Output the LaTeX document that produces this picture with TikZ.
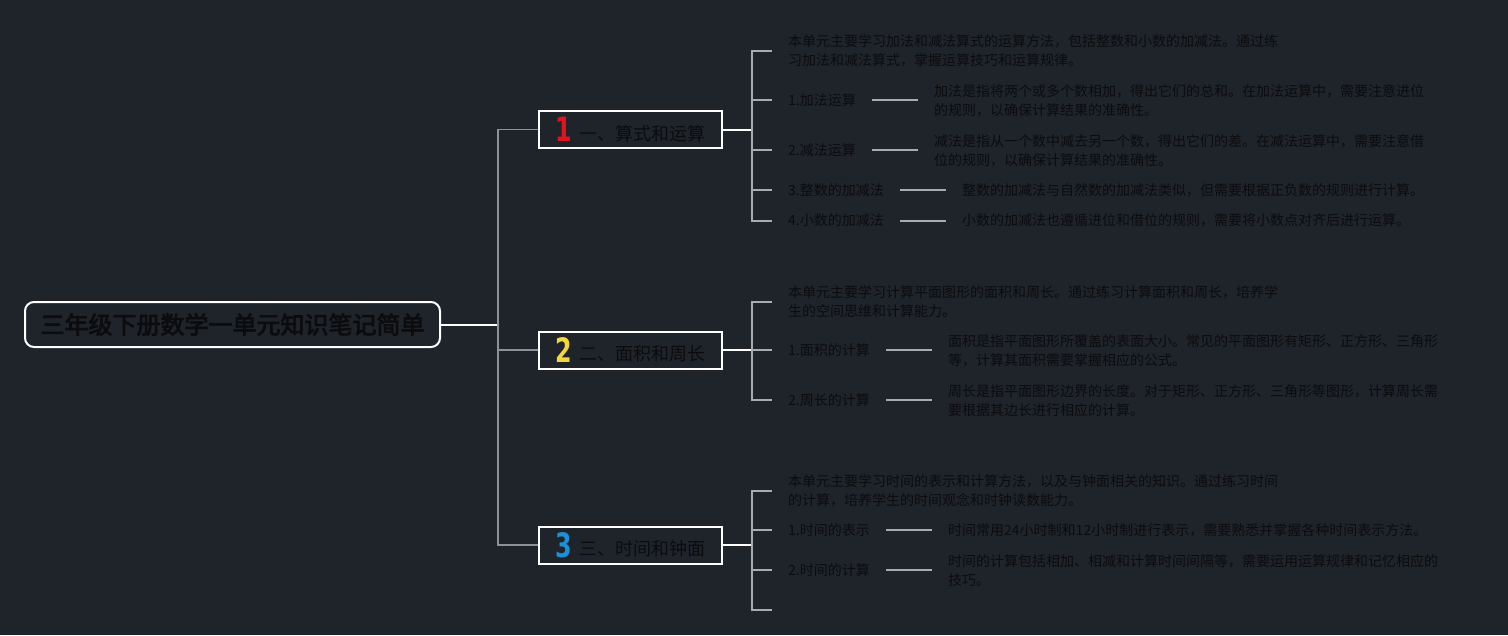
\documentclass[tikz,border=0pt]{standalone}
\usepackage{graphicx}
\usepackage{fontspec}
\setmainfont{Noto Sans CJK SC}[AutoFakeBold=3]
\newfontfamily\numfont{DejaVu Sans}

\definecolor{bg}{RGB}{31,35,42}
\definecolor{ink}{RGB}{12,12,14}
\definecolor{stemcol}{RGB}{142,145,150}
\definecolor{twigcol}{RGB}{168,171,176}
\definecolor{numred}{RGB}{226,18,32}
\definecolor{numyellow}{RGB}{246,214,62}
\definecolor{numblue}{RGB}{28,144,214}

\newcommand{\topicnum}[2]{\raisebox{-1.5pt}{\scalebox{0.85}[1.2]{\color{#1}\numfont\bfseries\fontsize{28}{28}\selectfont #2}}\hspace{7pt}}

\begin{document}
\begin{tikzpicture}[x=1pt, y=-1pt,
  root/.style={draw=white, line width=2pt, rounded corners=9pt, minimum width=415pt, minimum height=45pt, inner sep=0pt, font=\fontsize{24}{24}\selectfont\bfseries, text=ink},
  topic/.style={draw=white, line width=2pt, minimum width=183pt, minimum height=37pt, inner sep=0pt, font=\fontsize{18}{18}\selectfont, text=ink},
  leaf/.style={anchor=west, inner sep=0pt, align=left, font=\fontsize{14}{19}\selectfont, text=ink},
  stem/.style={draw=stemcol, line width=1.5pt},
  twig/.style={draw=twigcol, line width=2pt},
  gap/.style={shorten >=16pt, shorten <=16pt}]

\useasboundingbox (0,0) rectangle (1508,635);
\fill[bg] (0,0) rectangle (1508,635);

\node[root] (title) at (232.5,324.5) {三年级下册数学一单元知识笔记简单};

\node[topic] (b1) at (630.5,129.5) {\topicnum{numred}{1}一、算式和运算};
\node[topic] (b2) at (630.5,350) {\topicnum{numyellow}{2}二、面积和周长};
\node[topic] (b3) at (630.5,545) {\topicnum{numblue}{3}三、时间和钟面};

\coordinate (rt) at (498,324.5);
\coordinate (s1) at (752,129.5);
\coordinate (s2) at (752,350);
\coordinate (s3) at (752,545);

\draw[draw=white, line width=2pt] (title.east) -- (rt);
\draw[stem] (rt) |- (b1.west);
\draw[stem] (rt) |- (b2.west);
\draw[stem] (rt) |- (b3.west);

\draw[draw=white, line width=2pt] (b1.east) -- (s1);
\draw[draw=white, line width=2pt] (b2.east) -- (s2);
\draw[draw=white, line width=2pt] (b3.east) -- (s3);

% 算式和运算
\node[leaf] (m1) at (788,51) {本单元主要学习加法和减法算式的运算方法，包括整数和小数的加减法。通过练\\习加法和减法算式，掌握运算技巧和运算规律。};
\node[leaf] (p1) at (788,100) {1.加法运算};
\node[leaf] (q1) at (934,100.5) {加法是指将两个或多个数相加，得出它们的总和。在加法运算中，需要注意进位\\的规则，以确保计算结果的准确性。};
\node[leaf] (p2) at (788,150) {2.减法运算};
\node[leaf] (q2) at (934,150.5) {减法是指从一个数中减去另一个数，得出它们的差。在减法运算中，需要注意借\\位的规则，以确保计算结果的准确性。};
\node[leaf] (p3) at (788,190) {3.整数的加减法};
\node[leaf] (q3) at (962,190) {整数的加减法与自然数的加减法类似，但需要根据正负数的规则进行计算。};
\node[leaf] (p4) at (788,220.5) {4.小数的加减法};
\node[leaf] (q4) at (962,220.5) {小数的加减法也遵循进位和借位的规则，需要将小数点对齐后进行运算。};

\foreach \n in {m1,p1,p2,p3,p4}
  \draw[twig, shorten >=16pt] (s1) |- (\n.west);
\foreach \a/\b in {p1/q1,p2/q2,p3/q3,p4/q4}
  \draw[twig, gap] (\a.east) -- (\a.east -| \b.west);

% 面积和周长
\node[leaf] (m2) at (788,301.5) {本单元主要学习计算平面图形的面积和周长。通过练习计算面积和周长，培养学\\生的空间思维和计算能力。};
\node[leaf] (e1) at (788,350) {1.面积的计算};
\node[leaf] (f1) at (948,351) {面积是指平面图形所覆盖的表面大小。常见的平面图形有矩形、正方形、三角形\\等，计算其面积需要掌握相应的公式。};
\node[leaf] (e2) at (788,400) {2.周长的计算};
\node[leaf] (f2) at (948,400.5) {周长是指平面图形边界的长度。对于矩形、正方形、三角形等图形，计算周长需\\要根据其边长进行相应的计算。};

\foreach \n in {m2,e1,e2}
  \draw[twig, shorten >=16pt] (s2) |- (\n.west);
\foreach \a/\b in {e1/f1,e2/f2}
  \draw[twig, gap] (\a.east) -- (\a.east -| \b.west);

% 时间和钟面
\node[leaf] (m3) at (788,490.5) {本单元主要学习时间的表示和计算方法，以及与钟面相关的知识。通过练习时间\\的计算，培养学生的时间观念和时钟读数能力。};
\node[leaf] (t1) at (788,530) {1.时间的表示};
\node[leaf] (u1) at (948,530.5) {时间常用24小时制和12小时制进行表示，需要熟悉并掌握各种时间表示方法。};
\node[leaf] (t2) at (788,570) {2.时间的计算};
\node[leaf] (u2) at (948,570.5) {时间的计算包括相加、相减和计算时间间隔等，需要运用运算规律和记忆相应的\\技巧。};
\coordinate (t3) at (772,610);

\foreach \n in {m3,t1,t2}
  \draw[twig, shorten >=16pt] (s3) |- (\n.west);
\draw[twig] (s3) |- (t3);
\foreach \a/\b in {t1/u1,t2/u2}
  \draw[twig, gap] (\a.east) -- (\a.east -| \b.west);

\end{tikzpicture}
\end{document}
